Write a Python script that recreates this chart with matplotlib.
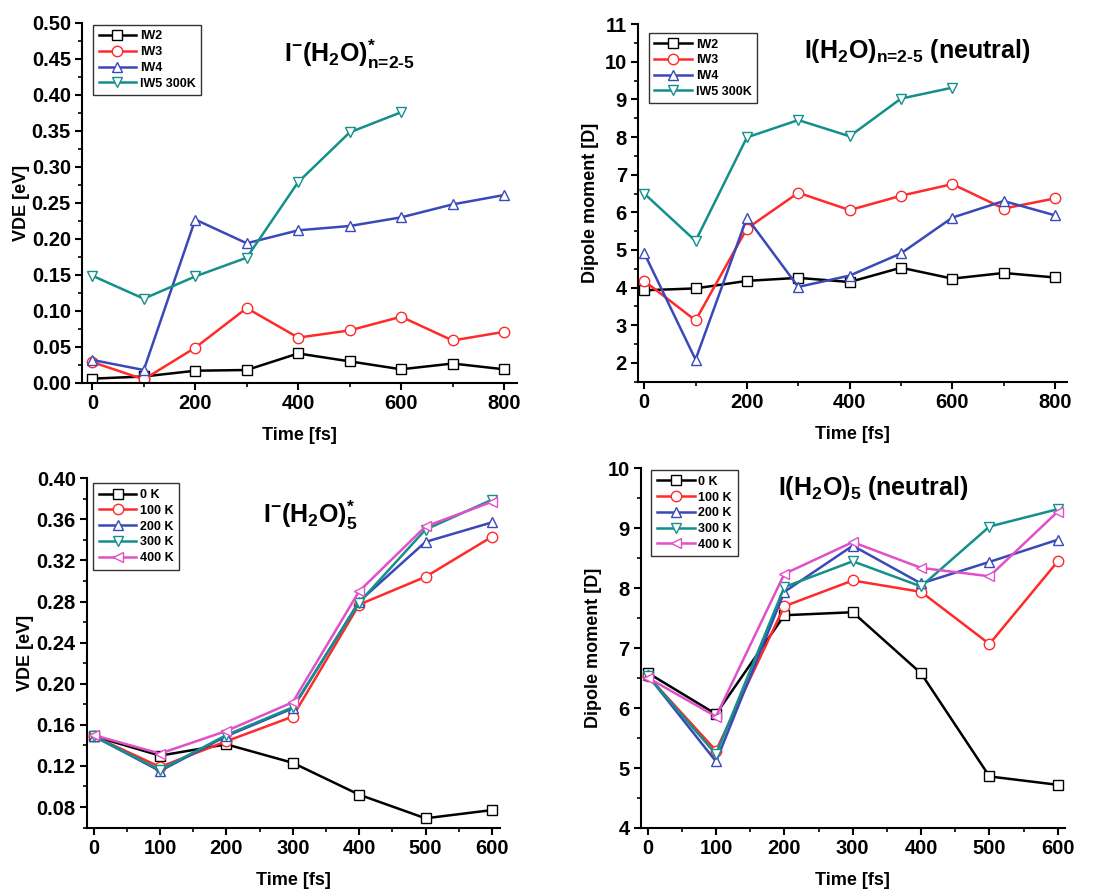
import matplotlib
matplotlib.use('Agg')
import matplotlib.pyplot as plt
from matplotlib.ticker import MultipleLocator, FormatStrFormatter

plt.rcParams.update({'font.family': ['Liberation Sans', 'DejaVu Sans'],
                     'font.weight': 'bold',
                     'mathtext.fontset': 'custom',
                     'mathtext.rm': 'Liberation Sans:bold',
                     'mathtext.it': 'Liberation Sans:bold',
                     'mathtext.bf': 'Liberation Sans:bold'})

# data
t_long = [0, 100, 200, 300, 400, 500, 600, 700, 800]
t_short = [0, 100, 200, 300, 400, 500, 600]

iw_labels = ['IW2', 'IW3', 'IW4', 'IW5 300K']
vde_iw2 = [0.006, 0.009, 0.017, 0.018, 0.041, 0.030, 0.019, 0.027, 0.019]
vde_iw3 = [0.029, 0.005, 0.049, 0.104, 0.063, 0.073, 0.092, 0.059, 0.071]
vde_iw4 = [0.032, 0.018, 0.227, 0.194, 0.212, 0.218, 0.230, 0.248, 0.261]
vde_iw5 = [0.149, 0.117, 0.148, 0.174, 0.279, 0.348, 0.376]

dip_iw2 = [3.93, 3.98, 4.18, 4.26, 4.15, 4.53, 4.24, 4.39, 4.27]
dip_iw3 = [4.18, 3.13, 5.57, 6.52, 6.06, 6.44, 6.75, 6.10, 6.37]
dip_iw4 = [4.92, 2.09, 5.86, 4.02, 4.32, 4.91, 5.86, 6.30, 5.92]
dip_iw5 = [6.50, 5.24, 7.99, 8.45, 8.02, 9.02, 9.31]

temp_labels = ['0 K', '100 K', '200 K', '300 K', '400 K']
vde_0k = [0.149, 0.130, 0.141, 0.123, 0.092, 0.069, 0.077]
vde_100k = [0.149, 0.119, 0.144, 0.168, 0.277, 0.304, 0.343]
vde_200k = [0.149, 0.115, 0.149, 0.176, 0.280, 0.338, 0.357]
vde_300k = [0.149, 0.116, 0.150, 0.177, 0.279, 0.350, 0.379]
vde_400k = [0.150, 0.132, 0.154, 0.182, 0.290, 0.353, 0.377]

dip_0k = [6.59, 5.90, 7.55, 7.60, 6.58, 4.86, 4.72]
dip_100k = [6.54, 5.29, 7.70, 8.13, 7.94, 7.07, 8.45]
dip_200k = [6.55, 5.11, 7.94, 8.71, 8.08, 8.44, 8.81]
dip_300k = [6.54, 5.23, 8.02, 8.45, 8.03, 9.03, 9.32]
dip_400k = [6.51, 5.86, 8.24, 8.77, 8.34, 8.20, 9.28]

colors = ['black', '#ff2a2a', '#3a48b8', '#13908a', '#e050c8']
markers = ['s', 'o', '^', 'v', '<']


def draw_panel(ax, xs_list, ys_list, labels, legend_bbox):
	for i in range(len(ys_list)):
		ax.plot(xs_list[i], ys_list[i], color=colors[i], marker=markers[i], markersize=7.5,
				markerfacecolor='white', markeredgecolor=colors[i], markeredgewidth=1.0,
				linewidth=1.8, label=labels[i])
	ax.spines['top'].set_visible(False)
	ax.spines['right'].set_visible(False)
	ax.spines['left'].set_linewidth(1.5)
	ax.spines['bottom'].set_linewidth(1.5)
	ax.tick_params(which='major', direction='out', length=5, width=1.5, labelsize=14.5, pad=3)
	ax.tick_params(which='minor', direction='out', length=3, width=1.2)
	ax.set_xlabel('Time [fs]', fontsize=13, fontweight='bold', labelpad=10)
	for lab in ax.get_xticklabels() + ax.get_yticklabels():
		lab.set_fontweight('bold')
	leg = ax.legend(loc='upper left', bbox_to_anchor=legend_bbox, fontsize=9, frameon=True,
					fancybox=False, handlelength=3.0, handletextpad=0.3, borderpad=0.45,
					labelspacing=0.3, borderaxespad=0)
	leg.get_frame().set_edgecolor('black')
	leg.get_frame().set_linewidth(1.0)
	for t in leg.get_texts():
		t.set_fontweight('bold')


fig = plt.figure(figsize=(11.01, 8.9), dpi=100)

# top left: VDE, n=2-5
ax1 = fig.add_axes([0.0745, 0.5697, 0.395, 0.4045])
draw_panel(ax1, [t_long, t_long, t_long, t_short], [vde_iw2, vde_iw3, vde_iw4, vde_iw5],
		   iw_labels, (0.025, 0.995))
ax1.set_xlim(-20, 825)
ax1.set_ylim(0, 0.5)
ax1.xaxis.set_major_locator(MultipleLocator(200))
ax1.xaxis.set_minor_locator(MultipleLocator(100))
ax1.yaxis.set_major_locator(MultipleLocator(0.05))
ax1.yaxis.set_minor_locator(MultipleLocator(0.025))
ax1.yaxis.set_major_formatter(FormatStrFormatter('%.2f'))
ax1.set_ylabel('VDE [eV]', fontsize=13, fontweight='bold', labelpad=1)
ax1.text(0.614, 0.913, r'$\mathbf{I^{-}(H_2O)^{*}_{\text{n=2-5}}}$', transform=ax1.transAxes,
		 fontsize=18, ha='center', va='center')

# top right: dipole, n=2-5
ax2 = fig.add_axes([0.5795, 0.571, 0.3895, 0.402])
draw_panel(ax2, [t_long, t_long, t_long, t_short], [dip_iw2, dip_iw3, dip_iw4, dip_iw5],
		   iw_labels, (0.025, 0.975))
ax2.set_xlim(-12, 823)
ax2.set_ylim(1.5, 11)
ax2.xaxis.set_major_locator(MultipleLocator(200))
ax2.xaxis.set_minor_locator(MultipleLocator(100))
ax2.yaxis.set_major_locator(MultipleLocator(1))
ax2.yaxis.set_minor_locator(MultipleLocator(0.5))
ax2.set_ylabel('Dipole moment [D]', fontsize=13, fontweight='bold', labelpad=4)
ax2.text(0.652, 0.925, r'$\mathbf{I(H_2O)_{\text{n=2-5}}}$ (neutral)', transform=ax2.transAxes,
		 fontsize=18, ha='center', va='center', fontweight='bold')

# bottom left: VDE, n=5 temperatures
ax3 = fig.add_axes([0.079, 0.0697, 0.375, 0.393])
draw_panel(ax3, [t_short] * 5, [vde_0k, vde_100k, vde_200k, vde_300k, vde_400k],
		   temp_labels, (0.015, 0.985))
ax3.set_xlim(-10, 612)
ax3.set_ylim(0.0596, 0.40)
ax3.xaxis.set_major_locator(MultipleLocator(100))
ax3.xaxis.set_minor_locator(MultipleLocator(50))
ax3.yaxis.set_major_locator(MultipleLocator(0.04))
ax3.yaxis.set_minor_locator(MultipleLocator(0.02))
ax3.yaxis.set_major_formatter(FormatStrFormatter('%.2f'))
ax3.set_ylabel('VDE [eV]', fontsize=13, fontweight='bold', labelpad=2)
ax3.text(0.54, 0.895, r'$\mathbf{I^{-}(H_2O)_{5}^{*}}$', transform=ax3.transAxes,
		 fontsize=18, ha='center', va='center')

# bottom right: dipole, n=5 temperatures
ax4 = fig.add_axes([0.582, 0.0697, 0.385, 0.404])
draw_panel(ax4, [t_short] * 5, [dip_0k, dip_100k, dip_200k, dip_300k, dip_400k],
		   temp_labels, (0.025, 0.995))
ax4.set_xlim(-10, 610)
ax4.set_ylim(4, 10)
ax4.xaxis.set_major_locator(MultipleLocator(100))
ax4.xaxis.set_minor_locator(MultipleLocator(50))
ax4.yaxis.set_major_locator(MultipleLocator(1))
ax4.yaxis.set_minor_locator(MultipleLocator(0.5))
ax4.set_ylabel('Dipole moment [D]', fontsize=13, fontweight='bold', labelpad=4)
ax4.text(0.548, 0.945, r'$\mathbf{I(H_2O)_5}$ (neutral)', transform=ax4.transAxes,
		 fontsize=18, ha='center', va='center', fontweight='bold')

fig.savefig('out.png', dpi=100)
